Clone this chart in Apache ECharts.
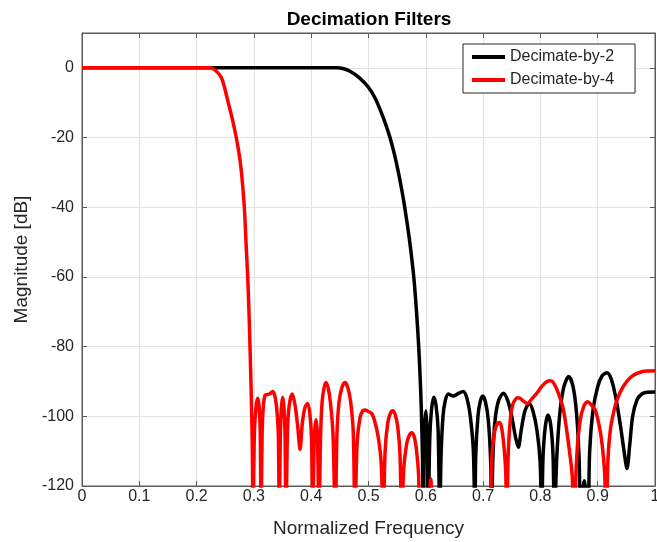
<!DOCTYPE html>
<html>
<head>
<meta charset="utf-8">
<script src="https://cdn.jsdelivr.net/npm/echarts@6/dist/echarts.min.js"></script>
<style>
html,body{margin:0;padding:0;background:#fff;}
#c{width:657px;height:542px;}
</style>
</head>
<body>
<div id="c"></div>
<script>
// Data: [normalized frequency, magnitude dB]
const titleText = 'Decimation Filters';
const xName = 'Normalized Frequency';
const yName = 'Magnitude [dB]';
const seriesNames = ['Decimate-by-2', 'Decimate-by-4'];
const xTicks = [0, 0.1, 0.2, 0.3, 0.4, 0.5, 0.6, 0.7, 0.8, 0.9, 1];
const yTicks = [-120, -100, -80, -60, -40, -20, 0];

const decim2 = [
  [0, 0], [0.2, 0], [0.4, 0], [0.445, 0], [0.455, -0.2], [0.4677, -1], [0.4852, -3],
  [0.4995, -5.5], [0.5110, -8.5], [0.5215, -12.5], [0.5300, -16.2], [0.5375, -20], [0.5455, -25],
  [0.5522, -30], [0.5580, -35], [0.5632, -40], [0.5712, -49], [0.5790, -60], [0.5838, -70],
  [0.5876, -80], [0.5897, -87.2], [0.5922, -98], [0.5942, -112], [0.5955, -130],
  [0.5975, -105], [0.6003, -98.4], [0.6025, -106], [0.6040, -130],
  [0.6070, -106], [0.6100, -98], [0.6140, -94.5], [0.6180, -97], [0.6215, -104], [0.6245, -130],
  [0.6265, -112], [0.6300, -100], [0.6340, -95.5], [0.6393, -93.6], [0.6480, -94.2], [0.6562, -93.5],
  [0.6654, -92.9], [0.6720, -95], [0.6780, -100.5], [0.6830, -110], [0.6859, -130],
  [0.6870, -112], [0.6910, -100], [0.6950, -95.8], [0.6993, -94.2], [0.7040, -95.8], [0.7090, -101], [0.7130, -112], [0.7150, -130],
  [0.7170, -112], [0.7210, -101], [0.7270, -95.5], [0.7353, -93.4], [0.7430, -95.5], [0.7500, -100],
  [0.7560, -105.5], [0.7614, -108.9], [0.7665, -104], [0.7730, -98.5], [0.7806, -96.3], [0.7870, -98.5],
  [0.7940, -104], [0.7995, -113], [0.8023, -130],
  [0.8045, -112], [0.8085, -103], [0.8133, -99.6], [0.8180, -102.5], [0.8220, -111], [0.8246, -130],
  [0.8285, -112], [0.8340, -99], [0.8410, -91.5], [0.8494, -88.6], [0.8570, -91.5], [0.8630, -99], [0.8675, -112], [0.8700, -130],
  [0.8740, -121], [0.8765, -118.5], [0.8790, -121], [0.8831, -130],
  [0.8860, -110], [0.8920, -98], [0.9000, -91.5], [0.9080, -88.3], [0.9162, -87.5], [0.9240, -89.5],
  [0.9320, -95], [0.9400, -103], [0.9460, -110], [0.9511, -115], [0.9560, -108], [0.9610, -100],
  [0.9686, -95.3], [0.9770, -93.6], [0.986, -93.1], [1.0, -93]
];

const decim4 = [
  [0, 0], [0.1, 0], [0.2, 0], [0.2234, 0], [0.2321, -0.6], [0.2438, -3], [0.2553, -10],
  [0.2628, -15], [0.2692, -20], [0.2745, -25], [0.2783, -30], [0.2833, -40], [0.2862, -50], [0.2892, -60],
  [0.2914, -70], [0.2932, -80], [0.2948, -90], [0.2962, -100], [0.2973, -110], [0.2985, -130],
  [0.3010, -104], [0.3040, -97], [0.3066, -94.8], [0.3090, -97], [0.3110, -104], [0.3125, -130],
  [0.3145, -104], [0.3165, -97], [0.3194, -94], [0.3230, -93.8], [0.3269, -93.6], [0.3328, -92.9],
  [0.3370, -94.5], [0.3405, -99], [0.3428, -106], [0.3443, -130],
  [0.3462, -105], [0.3480, -97.5], [0.3503, -94.5], [0.3525, -97.5], [0.3543, -105], [0.3560, -130],
  [0.3585, -105], [0.3615, -97], [0.3670, -93.6], [0.3720, -97], [0.3765, -103], [0.3805, -109.5],
  [0.3845, -102], [0.3890, -97.5], [0.3939, -96.3], [0.3975, -99], [0.4005, -106], [0.4026, -130],
  [0.4055, -106], [0.4084, -101], [0.4110, -106], [0.4135, -130],
  [0.4165, -105], [0.4190, -96], [0.4225, -91.8], [0.4258, -90.3], [0.4295, -91.8], [0.4335, -96],
  [0.4380, -105], [0.4420, -130],
  [0.4450, -105], [0.4485, -96], [0.4535, -91.8], [0.4590, -90.3], [0.4640, -91.8], [0.4690, -96],
  [0.4735, -105], [0.4764, -130],
  [0.4800, -108], [0.4850, -100.5], [0.4900, -98.4], [0.4939, -98.2], [0.5000, -98.6], [0.5056, -99.2],
  [0.5110, -101.5], [0.5170, -106], [0.5220, -113], [0.5258, -130],
  [0.5290, -110], [0.5335, -102], [0.5380, -99.2], [0.5422, -98.4], [0.5465, -99.5], [0.5510, -103],
  [0.5550, -111], [0.5579, -130],
  [0.5615, -115], [0.5665, -108], [0.5710, -105.5], [0.5754, -104.7], [0.5800, -106], [0.5840, -110],
  [0.5875, -117], [0.5899, -130],
  [0.6026, -130], [0.6086, -118], [0.6143, -130],
  [0.6600, -140], [0.7100, -130],
  [0.7150, -112], [0.7200, -104.5], [0.7245, -102.2], [0.7283, -101.8], [0.7320, -103], [0.7360, -108],
  [0.7395, -116], [0.7412, -130],
  [0.7440, -110], [0.7480, -100], [0.7520, -96.5], [0.7557, -95.3], [0.7600, -94.7], [0.7644, -94.8],
  [0.7700, -95.6], [0.7771, -96.3], [0.7850, -95], [0.7935, -93.4], [0.8020, -91.5], [0.8110, -90.1],
  [0.8175, -89.8], [0.8230, -90.4], [0.8315, -93.4], [0.8403, -98.2], [0.8490, -107.8], [0.8555, -117],
  [0.8580, -130],
  [0.8640, -110], [0.8696, -101], [0.8760, -97], [0.8825, -95.8], [0.8890, -96.8], [0.8958, -98.2],
  [0.9030, -103], [0.9075, -107.8], [0.9120, -116], [0.9150, -130],
  [0.9180, -112], [0.9220, -104], [0.9275, -99], [0.9337, -95.3], [0.9420, -92.2], [0.9510, -90],
  [0.9600, -88.5], [0.9686, -87.7], [0.9770, -87.2], [0.9860, -87], [1.0, -86.9]
];

const chart = echarts.init(document.getElementById('c'), null, {renderer: 'canvas'});
const font = '"Liberation Sans", Arial, Helvetica, sans-serif';
const gridColor = '#e3e3e3';
const axisColor = '#5a5a5a';
const textColor = '#262626';
const fmtX = v => (v === 0 ? '0' : v === 1 ? '1' : v.toFixed(1));
const fmtY = v => (yTicks.indexOf(v) >= 0 ? String(v) : '');
const tickStyle = {show: true, inside: true, length: 5, lineStyle: {color: axisColor}};
const lineAx = {show: true, onZero: false, lineStyle: {color: axisColor}};

chart.setOption({
  animation: false,
  backgroundColor: '#ffffff',
  title: {
    text: titleText, left: 364, top: 5, textAlign: 'center',
    textStyle: {fontFamily: font, fontSize: 19, fontWeight: 'bold', color: '#000'}
  },
  legend: {
    orient: 'vertical', left: 463, top: 44,
    padding: [4, 21, 4, 9],
    itemGap: 5, itemWidth: 33, itemHeight: 4, icon: 'rect',
    backgroundColor: '#fff', borderColor: '#262626', borderWidth: 1,
    textStyle: {fontFamily: font, fontSize: 16, color: textColor, lineHeight: 18},
    data: seriesNames
  },
  grid: {left: 82, right: 2, top: 33, bottom: 56, containLabel: false, outerBoundsMode: 'none',
    show: true, borderColor: axisColor, borderWidth: 1, backgroundColor: '#fff'},
  xAxis: [{
    type: 'value', min: 0, max: 1, interval: 0.1,
    name: xName, nameLocation: 'middle', nameGap: 33,
    nameTextStyle: {fontFamily: font, fontSize: 19, color: textColor},
    axisLine: lineAx, axisTick: tickStyle,
    axisLabel: {formatter: fmtX, fontFamily: font, fontSize: 16, color: textColor, margin: 3},
    splitLine: {show: true, lineStyle: {color: gridColor}}
  }, {
    type: 'value', min: 0, max: 1, interval: 0.1, position: 'top',
    axisLine: lineAx, axisTick: tickStyle,
    axisLabel: {show: false}, splitLine: {show: false}
  }],
  yAxis: [{
    type: 'value', min: -120, max: 10, interval: 20,
    name: yName, nameLocation: 'middle', nameGap: 50, nameRotate: 90,
    nameTextStyle: {fontFamily: font, fontSize: 19, color: textColor},
    axisLine: lineAx, axisTick: tickStyle,
    axisLabel: {formatter: fmtY, fontFamily: font, fontSize: 16, color: textColor, margin: 8, showMaxLabel: false},
    splitLine: {show: true, lineStyle: {color: gridColor}}
  }, {
    type: 'value', min: -120, max: 10, interval: 20, position: 'right',
    axisLine: lineAx, axisTick: tickStyle,
    axisLabel: {show: false}, splitLine: {show: false}
  }],
  series: [{
    name: seriesNames[0], type: 'line', data: decim2, xAxisIndex: 0, yAxisIndex: 0,
    showSymbol: false, smooth: 0.3, clip: true, z: 3,
    itemStyle: {color: '#000000'},
    lineStyle: {color: '#000000', width: 3.5}
  }, {
    name: seriesNames[1], type: 'line', data: decim4, xAxisIndex: 0, yAxisIndex: 0,
    showSymbol: false, smooth: 0.3, clip: true, z: 4,
    itemStyle: {color: '#ff0000'},
    lineStyle: {color: '#ff0000', width: 3.5}
  }]
});
</script>
</body>
</html>
